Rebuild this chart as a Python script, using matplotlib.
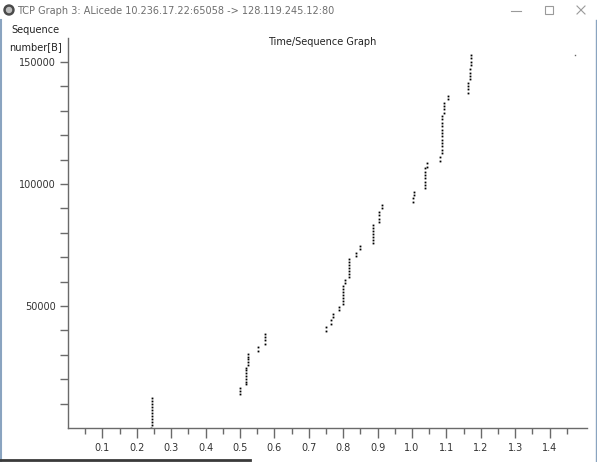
import matplotlib
matplotlib.use("Agg")
import matplotlib.pyplot as plt
from matplotlib.ticker import FixedLocator
from matplotlib.patches import Circle, Rectangle

# segment send times (s) and sequence numbers (bytes)
seg_time = [
    0.242,
    0.244, 0.244, 0.244, 0.244, 0.244, 0.244, 0.244, 0.244, 0.244, 0.244,
    0.500, 0.500, 0.500,
    0.517, 0.517, 0.517, 0.517, 0.517, 0.517, 0.517,
    0.524, 0.524, 0.524, 0.524, 0.524,
    0.553, 0.553,
    0.573, 0.573, 0.573, 0.573,
    0.750, 0.750,
    0.764, 0.764,
    0.771, 0.771,
    0.787, 0.787,
    0.799, 0.799, 0.799, 0.799, 0.799, 0.799, 0.799,
    0.805, 0.805,
    0.816, 0.816, 0.816, 0.816, 0.816, 0.816, 0.816,
    0.838, 0.838,
    0.848, 0.848,
    0.888, 0.888, 0.888, 0.888, 0.888, 0.888, 0.888,
    0.905, 0.905, 0.905, 0.905,
    0.914, 0.914,
    1.002, 1.002,
    1.006, 1.006,
    1.037, 1.037, 1.037, 1.037, 1.037, 1.037, 1.037,
    1.043, 1.043,
    1.082, 1.082,
    1.086, 1.086, 1.086, 1.086, 1.086, 1.086, 1.086, 1.086, 1.086, 1.086, 1.086, 1.086,
    1.094, 1.094, 1.094, 1.094,
    1.104, 1.104,
    1.163, 1.163, 1.163, 1.163,
    1.169, 1.169, 1.169, 1.169,
    1.172, 1.172, 1.172, 1.172,
]
seg_seq = [
    1,
    1400, 2600, 3800, 5000, 6200, 7400, 8600, 9800, 11000, 12200,
    13900, 15200, 16500,
    17900, 19000, 20200, 21300, 22500, 23600, 24700,
    25900, 27000, 28100, 29200, 30400,
    31700, 33100,
    34400, 36100, 37300, 38500,
    39900, 41300,
    42700, 44300,
    45500, 46800,
    48500, 49700,
    51000, 52200, 53400, 54600, 55800, 57000, 58200,
    59400, 60700,
    62000, 63200, 64400, 65600, 66800, 68000, 69100,
    70600, 71800,
    73400, 74700,
    75900, 77100, 78300, 79600, 80800, 82000, 83200,
    84300, 85800, 87200, 88700,
    90000, 91400,
    92800, 94100,
    95500, 96900,
    98200, 99600, 100900, 102300, 103700, 105000, 106400,
    107100, 108500,
    109600, 110900,
    112600, 114000, 115400, 116800, 118100, 119500, 120900, 122300, 123700, 125100, 126500, 127900,
    129200, 130600, 132000, 133300,
    134700, 136100,
    137400, 138800, 140100, 141500,
    142900, 144300, 145600, 147000,
    148800, 150100, 151500, 152900,
]
# lone packet at the far right
fin_time = [1.474]
fin_seq = [152700]

x_major = [0.1, 0.2, 0.3, 0.4, 0.5, 0.6, 0.7, 0.8, 0.9, 1.0, 1.1, 1.2, 1.3, 1.4]
x_labels = ["0.1", "0.2", "0.3", "0.4", "0.5", "0.6", "0.7", "0.8", "0.9", "1.0", "1.1", "1.2", "1.3", "1.4"]
x_minor = [0.05, 0.15, 0.25, 0.35, 0.45, 0.55, 0.65, 0.75, 0.85, 0.95, 1.05, 1.15, 1.25, 1.35, 1.45]
y_major = [50000, 100000, 150000]
y_minor = [10000, 20000, 30000, 40000, 60000, 70000, 80000, 90000,
           110000, 120000, 130000, 140000]

W, H = 597, 462
fig = plt.figure(figsize=(W / 100, H / 100), dpi=100)
fig.patch.set_facecolor("white")

ax = fig.add_axes([68 / W, 34 / H, (587 - 68) / W, 390 / H])
ax.set_facecolor("none")

# window chrome and labels drawn in pixel coords on top
bg = fig.add_axes([0, 0, 1, 1], zorder=5)
bg.set_facecolor("none")
bg.set_xlim(0, W)
bg.set_ylim(H, 0)
bg.axis("off")
bg.add_patch(Circle((9, 10), 5, color="#4a4a4a"))
bg.add_patch(Circle((9, 10), 2.5, color="#bdbdbd"))
bg.text(17, 10.5, "TCP Graph 3: ALicede 10.236.17.22:65058 -> 128.119.245.12:80",
        fontsize=7, color="#6e6e6e", va="center", ha="left")
bg.plot([511, 521], [11, 11], color="#9a9a9a", lw=0.8)
bg.add_patch(Rectangle((545, 6), 8, 8, fill=False, ec="#9a9a9a", lw=0.8))
bg.plot([577, 585], [6, 14], color="#9a9a9a", lw=0.8)
bg.plot([577, 585], [14, 6], color="#9a9a9a", lw=0.8)
bg.plot([1, 1], [20, H], color="#8aa4c0", lw=1.5)
bg.plot([595.5, 595.5], [20, H], color="#8aa4c0", lw=1.0)
bg.plot([0, 250], [460, 460], color="#3a3a3a", lw=2)
bg.text(35, 30, "Sequence", fontsize=7, ha="center", va="center", color="#222222")
bg.text(35, 47, "number[B]", fontsize=7, ha="center", va="center", color="#222222")
bg.text(322, 42, "Time/Sequence Graph", fontsize=7, ha="center", va="center", color="#222222")

ax.plot(seg_time, seg_seq, "s", color="black", ms=1.3, mew=0)
ax.plot(fin_time, fin_seq, "s", color="#666666", ms=1.0, mew=0)

ax.set_xlim(0, 1.509)
ax.set_ylim(0, 159800)
for s in ["top", "right"]:
    ax.spines[s].set_visible(False)
for s in ["left", "bottom"]:
    ax.spines[s].set_color("#6a6a6a")
    ax.spines[s].set_linewidth(1.0)

ax.xaxis.set_major_locator(FixedLocator(x_major))
ax.set_xticklabels(x_labels)
ax.xaxis.set_minor_locator(FixedLocator(x_minor))
ax.yaxis.set_major_locator(FixedLocator(y_major))
ax.yaxis.set_minor_locator(FixedLocator(y_minor))
ax.tick_params(axis="x", which="major", length=7, width=1, color="#6a6a6a",
               labelsize=7, labelcolor="#333333", pad=4)
ax.tick_params(axis="x", which="minor", length=4, width=1, color="#6a6a6a")
ax.tick_params(axis="y", which="both", length=6, width=1, color="#6a6a6a",
               labelsize=7, labelcolor="#333333", pad=3)

fig.savefig("out.png", dpi=100, facecolor="white")
